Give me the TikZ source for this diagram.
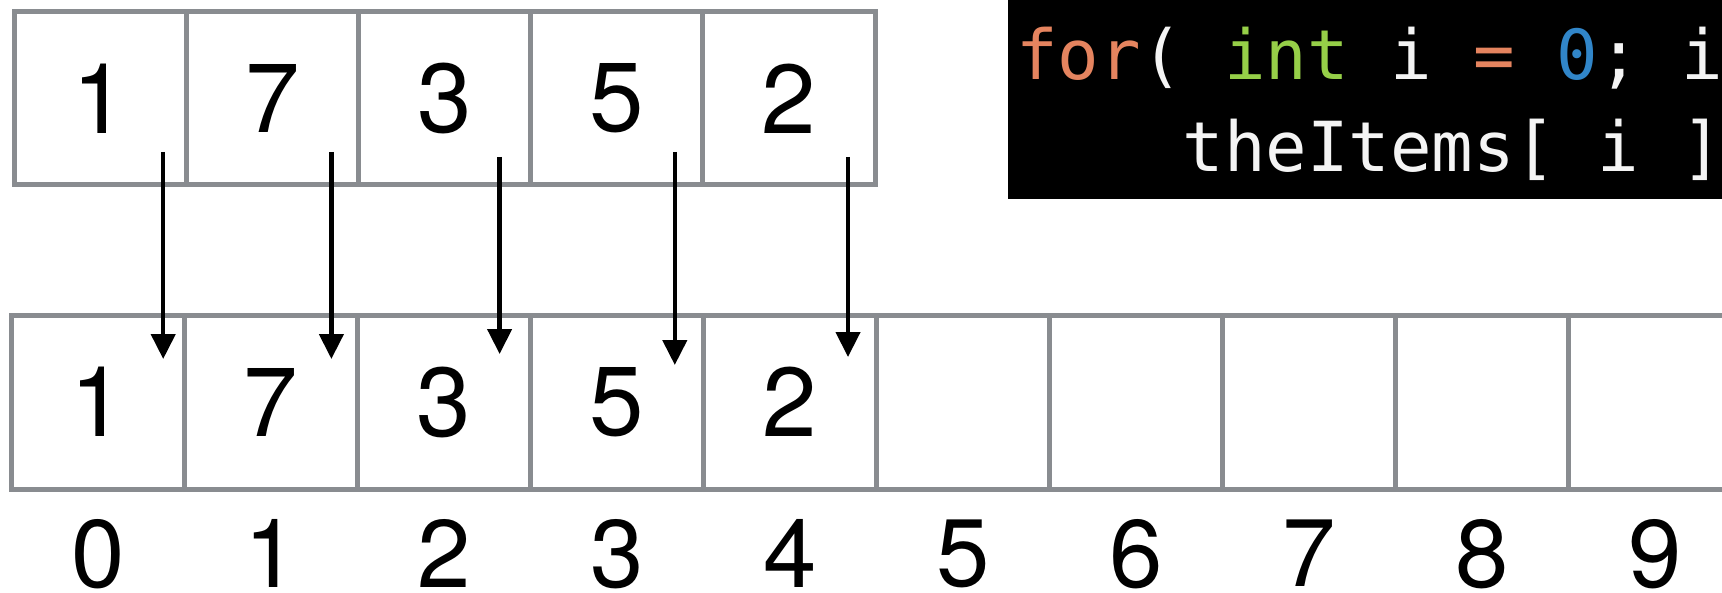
\documentclass[tikz,border=0pt]{standalone}
\usepackage{fontspec}
\setmainfont{TeX Gyre Heros}
\newfontfamily\codefont{DejaVu Sans Mono}
\usetikzlibrary{positioning, arrows.meta, calc}
\definecolor{cellgray}{HTML}{898C90}
\definecolor{kwfor}{HTML}{E5845F}
\definecolor{kwint}{HTML}{96CF48}
\definecolor{litnum}{HTML}{3186C9}
\definecolor{codefg}{HTML}{F4F4F4}

\tikzset{
  cell/.style={draw=cellgray, line width=2.5pt, inner sep=0pt, outer sep=0pt,
               font=\fontsize{49}{49}\selectfont},
  srccell/.style={cell, minimum width=86.1pt, minimum height=86.5pt},
  dstcell/.style={cell, minimum width=86.5pt, minimum height=87pt},
  idx/.style={inner sep=0pt, font=\fontsize{48}{48}\selectfont},
  code/.style={inner sep=0pt, anchor=base west, text=codefg,
               font=\codefont\fontsize{34.5}{46}\selectfont},
  copyarrow/.style={line width=2.2pt, -{Triangle[width=12pt, length=12.5pt]}}
}

\begin{document}
\begin{tikzpicture}[x=0.5pt, y=-0.5pt]
  \useasboundingbox (0,0) rectangle (1722,593);
  \clip (0,0) rectangle (1722,593);

  % Code snippet
  \fill[black] (1008,-5) rectangle (1730,199);
  \node[code] (codeA) at (1016,80)
    {{\color{kwfor}for}( {\color{kwint}int} i {\color{kwfor}=} {\color{litnum}0}; i};
  \node[code] (codeB) at (1016,172) {\ \ \ \ theItems[ i ]};

  % Source array
  \foreach \v [count=\i from 0] in {1,7,3,5,2}
    \node[srccell] (src\i) at ({100.1+172.2*\i},98.5) {\v};

  % Destination array
  \foreach \v [count=\i from 0] in {1,7,3,5,2}
    \node[dstcell] (dst\i) at ({98+173*\i},402) {\v};
  \foreach \i in {5,...,9}
    \node[dstcell] (dst\i) at ({98+173*\i},402) {};

  % Indices
  \foreach \i in {0,...,9}
    \node[idx, below=15pt of dst\i] (idx\i) {\i};

  % Copy arrows
  \foreach \i/\dx/\ya/\yb in {0/-23/33/44, 1/-27/33/44, 2/-31/28/39, 3/-28/33/50, 4/-27/28/42}
    \draw[copyarrow] ([shift={(\dx,-\ya)}]src\i.south east) coordinate (tail\i)
      -- ($(tail\i |- dst\i.north)+(0,\yb)$);
\end{tikzpicture}
\end{document}
